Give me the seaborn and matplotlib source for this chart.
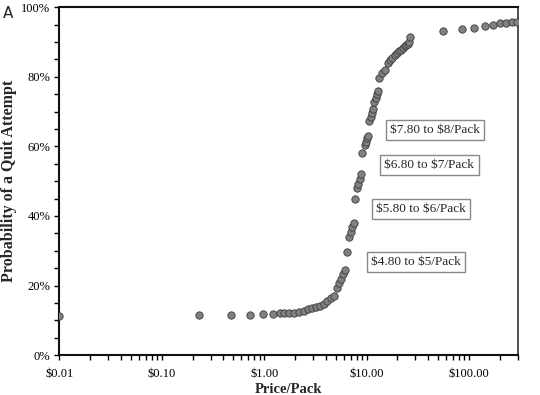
import numpy as np
import pandas as pd
import matplotlib
matplotlib.use("Agg")
import matplotlib.pyplot as plt
import matplotlib.ticker as mticker
import seaborn as sns

# price per pack ($) and probability of a quit attempt (%)
price = [0.01, 0.232, 0.474, 0.719, 0.971, 1.22, 1.42, 1.57, 1.75, 1.97,
         2.21, 2.45, 2.70, 2.94, 3.21, 3.51, 3.84, 4.14, 4.47, 4.81,
         5.11, 5.35, 5.59, 5.85, 6.12, 6.49, 6.78, 7.00, 7.21, 7.45,
         7.71, 8.01, 8.25, 8.53, 8.82, 9.08, 9.58, 9.87, 10.09, 10.32,
         10.62, 10.96, 11.29, 11.63, 11.94, 12.29, 12.63, 13.06, 13.30, 14.22,
         15.29, 16.17, 16.91, 17.88, 18.92, 19.79, 20.69, 21.64, 22.63, 23.67,
         24.48, 25.32, 26.19, 26.79,
         55.2, 84.5, 112.1, 143.6, 171.7, 201.0, 232.1, 263.2, 292.4]
prob = [11.3, 11.4, 11.4, 11.4, 11.7, 11.8, 12.0, 12.1, 12.2, 12.2,
        12.4, 12.7, 13.2, 13.6, 13.9, 14.1, 14.8, 15.6, 16.3, 17.0,
        19.2, 20.8, 22.0, 23.3, 24.4, 29.6, 34.0, 35.3, 36.8, 38.1,
        45.0, 47.9, 49.1, 50.6, 52.0, 58.0, 60.3, 61.3, 62.3, 63.0,
        67.3, 68.5, 69.6, 70.6, 72.8, 74.0, 75.0, 75.8, 79.5, 81.0,
        82.0, 83.9, 84.8, 85.5, 86.2, 86.8, 87.4, 87.8, 88.2, 88.8,
        89.1, 89.5, 89.9, 91.4,
        93.1, 93.6, 94.1, 94.6, 94.9, 95.3, 95.5, 95.6, 95.7]

x_ticks = [0.01, 0.1, 1, 10, 100]
x_tick_labels = ['$0.01', '$0.10', '$1.00', '$10.00', '$100.00']

box_labels = ['$7.80 to $8/Pack', '$6.80 to $7/Pack', '$5.80 to $6/Pack', '$4.80 to $5/Pack']
box_x = [46.7, 41.0, 34.1, 30.2]
box_y = [64.7, 54.7, 42.0, 26.8]

df = pd.DataFrame({'price': price, 'prob': prob})

sns.set_style('ticks')
plt.rcParams['font.family'] = ['Liberation Serif', 'DejaVu Serif']
plt.rcParams['axes.unicode_minus'] = False

fig = plt.figure(figsize=(5.4, 3.95), dpi=100)
ax = fig.add_axes([0.110, 0.101, 0.849, 0.881])

sns.scatterplot(data=df, x='price', y='prob', ax=ax, s=28,
                color='#808080', edgecolor='#3a3a3a', linewidth=0.6, zorder=3)

ax.set_xscale('log')
ax.set_xlim(0.01, 300)
ax.set_ylim(0, 100)
ax.set_xticks(x_ticks)
ax.set_xticklabels([t.replace('$', r'\$') for t in x_tick_labels])
ax.xaxis.set_minor_locator(mticker.LogLocator(base=10, subs=np.arange(2, 10)))
ax.xaxis.set_minor_formatter(mticker.NullFormatter())
ax.set_yticks(np.arange(0, 101, 20))
ax.yaxis.set_major_formatter(mticker.FuncFormatter(lambda v, p: f'{v:.0f}%'))
ax.yaxis.set_minor_locator(mticker.MultipleLocator(5))

ax.tick_params(which='both', direction='out', length=3.5, width=1.0,
               labelsize=9, colors='black', pad=3)
ax.tick_params(axis='x', pad=6)

for side in ['left', 'bottom', 'top']:
    ax.spines[side].set_linewidth(1.5)
    ax.spines[side].set_color('#111111')
ax.spines['right'].set_linewidth(1.2)
ax.spines['right'].set_color('#333333')

ax.set_xlabel('Price/Pack', fontsize=10.5, fontweight='bold', labelpad=2)
ax.set_ylabel('Probability of a Quit Attempt', fontsize=11.5, fontweight='bold', labelpad=3)

for label, bx, by in zip(box_labels, box_x, box_y):
    ax.text(bx, by, label.replace('$', r'\$'), ha='center', va='center', fontsize=9.5,
            bbox=dict(boxstyle='square,pad=0.32', facecolor='white',
                      edgecolor='#888888', linewidth=1.0), zorder=4)

fig.text(0.005, 0.965, 'A', fontsize=11, family='DejaVu Sans', va='center')

fig.savefig('out.png', dpi=100)
